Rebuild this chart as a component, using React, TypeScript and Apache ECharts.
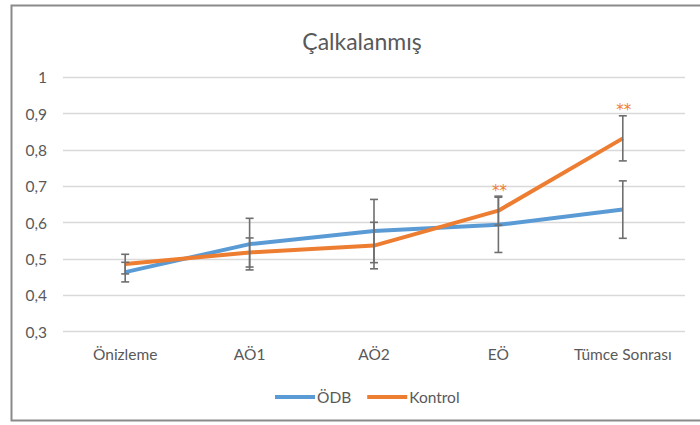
import React, { useEffect, useRef } from "react";
import * as echarts from "echarts";

const categories = ["Önizleme", "AÖ1", "AÖ2", "EÖ", "Tümce Sonrası"];
const odbValues = [0.464, 0.541, 0.577, 0.594, 0.636];
const kontrolValues = [0.486, 0.518, 0.537, 0.633, 0.832];
const odbErrors = [0.027, 0.071, 0.087, 0.076, 0.079];
const kontrolErrors = [0.027, 0.04, 0.064, 0.04, 0.062];
const kontrolSignificance = ["", "", "", "**", "**"];
const yTicks = [0.3, 0.4, 0.5, 0.6, 0.7, 0.8, 0.9, 1];

const FONT = "Lato, 'Open Sans', sans-serif";
const TEXT = "#595959";
const BLUE = "#5b9bd5";
const ORANGE = "#ed7d31";
const ERR = "#6f6f6f";

function errorData(values: number[], errs: number[], marks?: string[]) {
  return values.map((v, i) => [i, v - errs[i], v + errs[i], marks ? marks[i] : ""]);
}

function renderError(params: any, api: any) {
  const idx = api.value(0);
  const lo = api.coord([idx, api.value(1)]);
  const hi = api.coord([idx, api.value(2)]);
  const mark = api.value(3);
  const half = 4;
  const style = { stroke: ERR, lineWidth: 1.6 };
  const children: any[] = [
    { type: "line", shape: { x1: hi[0], y1: hi[1], x2: lo[0], y2: lo[1] }, style },
    { type: "line", shape: { x1: hi[0] - half, y1: hi[1], x2: hi[0] + half, y2: hi[1] }, style },
    { type: "line", shape: { x1: lo[0] - half, y1: lo[1], x2: lo[0] + half, y2: lo[1] }, style },
  ];
  if (mark && mark !== "" && mark !== "-") {
    children.push({
      type: "text",
      x: hi[0] + 1,
      y: hi[1] + 2,
      style: {
        text: String(mark),
        fill: ORANGE,
        font: `15px 'DejaVu Sans', sans-serif`,
        textAlign: "center",
        textVerticalAlign: "bottom",
      },
    });
  }
  return { type: "group", children };
}

export default function App() {
  const ref = useRef<HTMLDivElement>(null);
  useEffect(() => {
    document.body.style.margin = "0";
    const chart = echarts.init(ref.current!, undefined, { renderer: "svg" });
    chart.setOption({
      animation: false,
      backgroundColor: "#ffffff",
      title: {
        text: "Çalkalanmış",
        left: 357,
        top: 24,
        textAlign: "center",
        textStyle: { fontFamily: FONT, fontSize: 23, fontWeight: "normal", color: TEXT },
      },
      graphic: [
        {
          type: "rect",
          shape: { x: 11.5, y: 5.5, width: 700, height: 415 },
          style: { fill: "none", stroke: "#8a8a8a", lineWidth: 2 },
          silent: true,
        },
      ],
      legend: {
        left: 270,
        top: 384,
        icon: "rect",
        itemWidth: 40,
        itemHeight: 4,
        itemGap: 16,
        textStyle: { fontFamily: FONT, fontSize: 15.5, color: TEXT, padding: [0, 0, 0, -3] },
        data: ["ÖDB", "Kontrol"],
      },
      grid: { left: 63, right: 15, top: 77.3, height: 254.4 },
      xAxis: {
        type: "category",
        data: categories,
        boundaryGap: true,
        axisLine: { show: false },
        axisTick: { show: false },
        axisLabel: { fontFamily: FONT, fontSize: 15.5, color: TEXT, margin: 14, interval: 0, hideOverlap: false },
      },
      yAxis: {
        type: "value",
        min: yTicks[0],
        max: yTicks[yTicks.length - 1],
        interval: 0.1,
        axisLine: { show: false },
        axisTick: { show: false },
        splitLine: { lineStyle: { color: "#d9d9d9", width: 1.3 } },
        axisLabel: {
          fontFamily: FONT,
          fontSize: 15.5,
          color: TEXT,
          margin: 16,
          formatter: (v: number) => String(Math.round(v * 10) / 10).replace(".", ","),
        },
      },
      series: [
        {
          name: "ÖDB",
          type: "line",
          data: odbValues,
          symbol: "none",
          lineStyle: { color: BLUE, width: 4 },
          itemStyle: { color: BLUE },
          z: 2,
        },
        {
          name: "Kontrol",
          type: "line",
          data: kontrolValues,
          symbol: "none",
          lineStyle: { color: ORANGE, width: 4 },
          itemStyle: { color: ORANGE },
          z: 3,
        },
        {
          type: "custom",
          data: errorData(odbValues, odbErrors),
          renderItem: renderError,
          z: 5,
          silent: true,
        },
        {
          type: "custom",
          data: errorData(kontrolValues, kontrolErrors, kontrolSignificance),
          renderItem: renderError,
          z: 5,
          silent: true,
        },
      ],
    });
    return () => chart.dispose();
  }, []);
  return <div ref={ref} style={{ position: "absolute", left: 0, top: 0, width: 700, height: 425 }} />;
}
